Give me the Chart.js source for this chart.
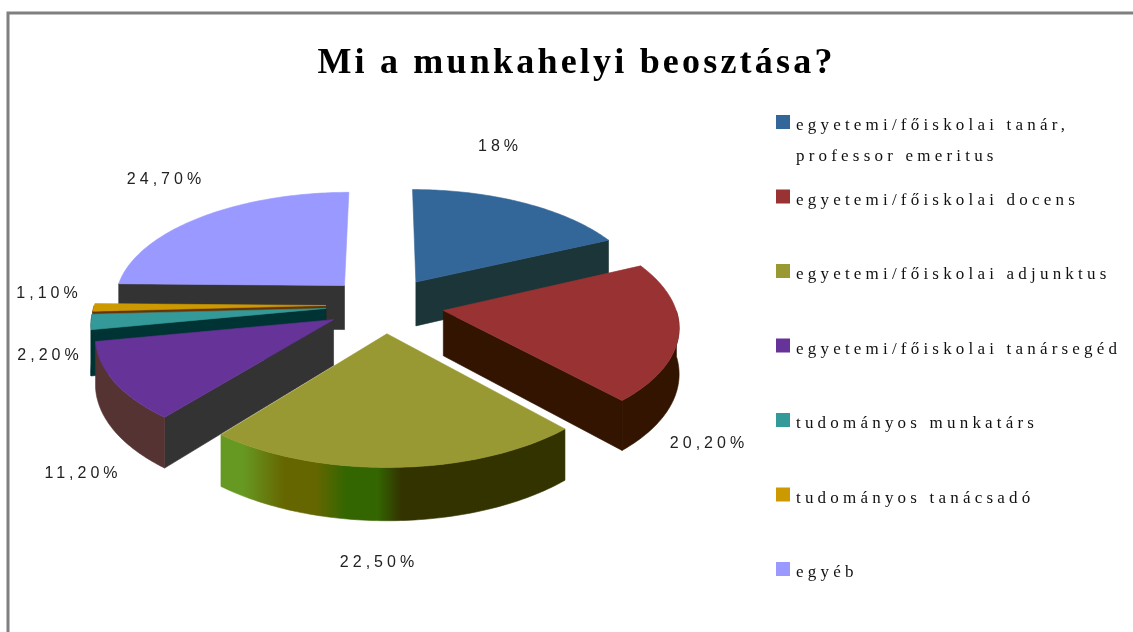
<!DOCTYPE html>
<html>
<head>
<meta charset="utf-8">
<title>Mi a munkahelyi beosztása?</title>
<script src="https://cdn.jsdelivr.net/npm/chart.js@4/dist/chart.umd.min.js"></script>
<style>
  html, body { margin: 0; background: #fff; overflow: hidden; }
  canvas { display: block; }
</style>
</head>
<body>
<canvas id="chart" width="1133" height="632"></canvas>
<script>
const chartTitle = 'Mi a munkahelyi beosztása?';
const categories = [
  'egyetemi/főiskolai tanár,\nprofessor emeritus',
  'egyetemi/főiskolai docens',
  'egyetemi/főiskolai adjunktus',
  'egyetemi/főiskolai tanársegéd',
  'tudományos munkatárs',
  'tudományos tanácsadó',
  'egyéb'
];
const values = [18, 20.2, 22.5, 11.2, 2.2, 1.1, 24.7];
const valueLabels = ['18%', '20,20%', '22,50%', '11,20%', '2,20%', '1,10%', '24,70%'];
const topColors = ['#336699', '#993333', '#999933', '#663399', '#339999', '#cc9900', '#9999ff'];
const cutColors = ['#1c3538', '#331400', '#333300', '#333333', '#003333', '#663300', '#333333'];
const rimColors = ['#1c3538', '#331400', '#333300', '#553333', '#003333', '#663300', '#333333'];

// label centres on the page, same order as values
const labelSpots = [[500, 147], [709, 444], [379, 563], [83, 474], [50, 356], [49, 294], [166, 180]];

// fake 3D view: the library lays the slices out flat, this tilts them
const view = { x: 385, y: 305, squeeze: 0.985, tilt: 0.465, dist: 1895, depth: 45 };

function project(u, v, z) {
  const w = view.dist / (view.dist - v);
  return [view.x + u * w * view.squeeze, view.y + v * view.tilt * w + z * w];
}

function fillPoly(ctx, pts, color) {
  ctx.beginPath();
  pts.forEach((p, i) => (i ? ctx.lineTo(p[0], p[1]) : ctx.moveTo(p[0], p[1])));
  ctx.closePath();
  ctx.fillStyle = color;
  ctx.fill();
  ctx.strokeStyle = color;
  ctx.lineWidth = 0.6;
  ctx.stroke();
}

function oliveWall(ctx) {
  const g = ctx.createLinearGradient(222, 0, 567, 0);
  g.addColorStop(0, '#669922');
  g.addColorStop(0.06, '#669922');
  g.addColorStop(0.18, '#666600');
  g.addColorStop(0.27, '#666600');
  g.addColorStop(0.36, '#336600');
  g.addColorStop(0.45, '#336600');
  g.addColorStop(0.52, '#333300');
  g.addColorStop(1, '#333300');
  return g;
}

function drawSlice(ctx, arc, i) {
  const a0 = arc.startAngle;
  const a1 = arc.endAngle;
  const mid = (a0 + a1) / 2;
  const R = arc.outerRadius;
  const ox = Math.cos(mid) * arc.options.offset;
  const oy = Math.sin(mid) * arc.options.offset;
  const rimAt = (a, z) => project(ox + R * Math.cos(a), oy + R * Math.sin(a), z);
  const apexAt = z => project(ox, oy, z);

  // cut faces, only the ones turned to the viewer
  if (Math.sin(a0 - Math.PI / 2) > 0) {
    fillPoly(ctx, [apexAt(0), rimAt(a0, 0), rimAt(a0, view.depth), apexAt(view.depth)], cutColors[i]);
  }
  if (Math.sin(a1 + Math.PI / 2) > 0) {
    fillPoly(ctx, [apexAt(0), rimAt(a1, 0), rimAt(a1, view.depth), apexAt(view.depth)], cutColors[i]);
  }

  // outer wall, front half of the circle
  const top = [];
  const bottom = [];
  const steps = 80;
  for (let s = 0; s <= steps; s++) {
    const a = a0 + (a1 - a0) * s / steps;
    if (Math.sin(a) >= 0) {
      top.push(rimAt(a, 0));
      bottom.unshift(rimAt(a, view.depth));
    }
  }
  if (top.length > 1) {
    fillPoly(ctx, top.concat(bottom), i === 2 ? oliveWall(ctx) : rimColors[i]);
  }

  // top face
  const face = [apexAt(0)];
  for (let s = 0; s <= steps; s++) {
    face.push(rimAt(a0 + (a1 - a0) * s / steps, 0));
  }
  fillPoly(ctx, face, topColors[i]);
}

const pie3d = {
  id: 'pie3d',
  beforeDatasetsDraw(chart) {
    const ctx = chart.ctx;
    const arcs = chart.getDatasetMeta(0).data.map((arc, i) => ({ arc, i }));
    // paint from the back to the front
    arcs.sort((a, b) => Math.sin((a.arc.startAngle + a.arc.endAngle) / 2) - Math.sin((b.arc.startAngle + b.arc.endAngle) / 2));
    ctx.save();
    arcs.forEach(({ arc, i }) => drawSlice(ctx, arc, i));
    ctx.restore();
    return false;
  },
  afterDraw(chart) {
    const ctx = chart.ctx;
    ctx.save();

    // value labels
    ctx.font = '16px "Liberation Sans"';
    ctx.letterSpacing = '4px';
    ctx.fillStyle = '#222';
    ctx.textAlign = 'center';
    ctx.textBaseline = 'middle';
    valueLabels.forEach((t, i) => ctx.fillText(t, labelSpots[i][0], labelSpots[i][1]));

    // legend
    ctx.textAlign = 'left';
    ctx.font = '17px "Liberation Serif"';
    ctx.letterSpacing = '4.2px';
    categories.forEach((name, i) => {
      const boxY = 115 + i * 74.5;
      ctx.fillStyle = topColors[i];
      ctx.fillRect(776, boxY, 14, 14);
      ctx.fillStyle = '#111';
      name.split('\n').forEach((line, n) => ctx.fillText(line, 796, boxY + 11 + n * 31));
    });
    ctx.restore();
  }
};

const frame = {
  id: 'frame',
  beforeDraw(chart) {
    const ctx = chart.ctx;
    ctx.fillStyle = '#fff';
    ctx.fillRect(0, 0, chart.width, chart.height);
    ctx.strokeStyle = '#808080';
    ctx.lineWidth = 3;
    ctx.strokeRect(8, 13, chart.width + 20, chart.height + 20);
    // title text is spaced out in the original
    ctx.letterSpacing = '3.2px';
  },
  afterDraw(chart) {
    chart.ctx.letterSpacing = '0px';
  }
};

new Chart(document.getElementById('chart'), {
  type: 'pie',
  data: {
    labels: categories,
    datasets: [{
      data: values,
      backgroundColor: topColors,
      borderWidth: 0,
      offset: 60
    }]
  },
  options: {
    responsive: false,
    animation: false,
    radius: 235,
    layout: { padding: { left: 20, top: 42 } },
    plugins: {
      title: {
        display: true,
        text: chartTitle,
        color: '#000',
        font: { family: '"Liberation Serif"', size: 36, weight: 'bold', lineHeight: 1.2 },
        padding: 0
      },
      legend: { display: false },
      tooltip: { enabled: false }
    }
  },
  plugins: [frame, pie3d]
});
</script>
</body>
</html>
